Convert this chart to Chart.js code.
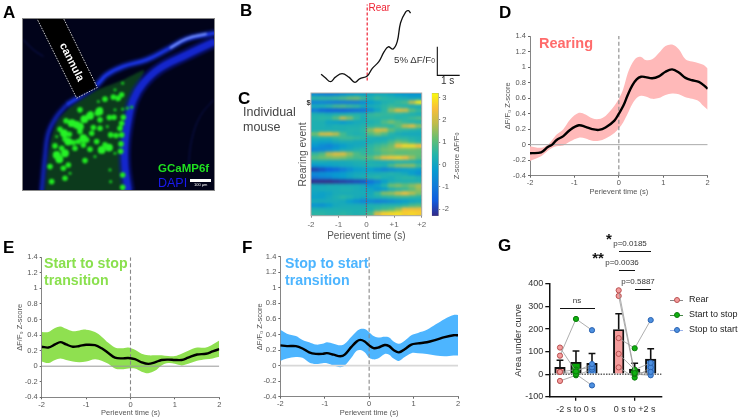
<!DOCTYPE html>
<html><head><meta charset="utf-8">
<script src="https://cdn.jsdelivr.net/npm/chart.js@4"></script>
<style>
html,body{margin:0;padding:0;background:#fff;width:738px;height:417px;overflow:hidden}
body{position:relative;font-family:"Liberation Sans",Arial,sans-serif}
canvas{position:absolute}
.t{position:absolute;white-space:pre;line-height:1}
.l{position:absolute;font-weight:bold;font-size:17px;color:#000}
.b{position:absolute;background:#111;height:1.4px}
sub{font-size:70%;vertical-align:-25%;line-height:0}
</style></head><body>
<script>
// ---------- Panel B: example photometry trace (s, %dF/F)
const traceTime=[-2.06,-1.87,-1.64,-1.42,-1.12,-0.82,-0.55,-0.34,0,0.22,0.52,0.75,0.94,1.15,1.34,1.49,1.72,1.84,1.94];
const traceValue=[0.2,-0.4,-1.1,-0.3,0.3,-0.3,-1.2,-0.6,-0.1,1.2,2.4,4.1,5,4.6,5.9,9.2,11.1,11.3,10.9];
// ---------- Panel C: rearing-event heat map (rows: events, columns: time bins)
const heatBinEdges=[-2,-1.75,-1.5,-1.25,-1,-0.75,-0.5,-0.25,0,0.25,0.5,0.75,1,1.25,1.5,1.75,2];
const heatRows=[
[-.6,-.8,-.9,-.8,-.5,-.3,-.2,-.2,0,.1,.1,0,-.2,-.3,-.4,-.4],
[.5,.6,.6,.7,.9,1.2,1.3,.8,.4,.7,.5,.4,.3,.2,0,0],
[-.8,-.8,-.9,-1,-1,-1,-1,-.7,-.2,0,.3,.4,.6,.8,1.8,3],
[.2,.3,.5,.8,.9,.7,.6,.2,.2,.3,.5,.7,.5,.4,.2,.1],
[-1,-1.4,-1.5,-1.5,-1.5,-1.4,-1.3,-1.2,-.6,0,.5,1.4,2.2,2,1,.6],
[.3,.3,.2,.3,.3,.4,.4,.3,.6,.7,.6,.6,.5,.4,.3,.2],
[.4,.5,.5,1,1.9,1.4,.6,.2,.5,.5,.5,.5,.4,.5,.7,.9],
[.3,.3,0,-.1,-.3,-.1,.1,.2,.3,.4,.9,1.3,.9,.6,.4,.3],
[.3,.3,.2,.3,.3,.3,.3,.4,.5,.6,.6,.5,1,1.8,2.2,1.4],
[.3,.3,.3,.3,.3,.4,.4,.5,1.4,2.1,2,1.1,.6,.5,.4,.3],
[1.2,2.1,2.2,1.8,.8,.4,.3,.4,.9,1.3,.9,.4,.2,.1,.1,.1],
[.3,.3,.3,.5,.7,.7,.6,.5,.3,.2,.2,.3,.5,.5,.4,.3],
[0,-.1,-.1,.1,.2,.2,.1,.1,.2,.3,.4,.8,1.2,1,.6,.4],
[-.3,-.6,-.8,-.5,-.2,0,.1,.2,.5,.7,.9,1.2,2.4,2.8,2.8,2.5],
[-.8,-.7,-.5,-.2,.1,.2,.4,.5,.6,.9,1.2,1.3,1.2,1.2,1.2,1.1],
[.6,.9,1.8,2.2,2.2,1.5,.9,.6,.6,.7,1,1.1,1,1,1.1,1.1],
[1,1.2,1.3,1.4,1.3,1,.8,.9,1,1.6,2.4,2.6,2.7,2.5,1.6,1],
[.2,.2,.1,.1,.1,.2,.3,.3,.3,.2,.2,.2,.3,.3,.3,.2],
[-.3,-.2,-.1,0,.1,.1,.2,.3,.4,.4,.3,.9,1.4,1.5,1.5,.8],
[-2,-1.8,-1.6,-1.4,-1,-.6,-.2,-.1,-.2,-.5,-.8,-.6,-.4,-.2,-.1,-.2],
[-.6,-.5,-.4,-.3,-.2,0,.1,.1,.2,.2,.3,.4,.3,.1,-.2,-.5],
[-1,-.8,-.7,-.4,-.2,0,.2,.3,.4,.5,.3,.2,.4,.5,.5,.3],
[-2.3,-2.3,-2.3,-2.2,-2.1,-2,-1.9,-1.8,-1.2,-.8,-.2,.2,.3,.3,.3,.3],
[.1,.1,.2,.2,.2,.2,.2,.1,-.4,-.1,.4,1.2,1.4,1.1,1.4,1.7],
[.1,.2,.2,.2,.3,.3,.2,.1,0,-.4,-.3,.2,.4,.6,1,1.5],
[0,-.1,0,.2,.2,.2,.2,.2,.1,.6,1.4,1.5,2,2.4,1.8,1.3],
[-.1,-.1,.1,.3,.5,.4,.2,.1,.2,.3,.4,.5,.6,.6,.5,.4],
[.2,.2,.2,.2,.1,-.2,-.5,-.8,-.7,-.9,-.8,-.6,-.4,-.2,0,.1],
[-.4,-.5,-.2,.1,.2,.2,.2,.2,.3,.3,.4,.4,.4,.5,.8,.9],
[.3,.3,.3,.3,.3,.3,.3,.3,.3,.6,.8,1,1.5,2.4,2.4,2.4],
[.5,.5,.4,.4,.5,.4,.3,.4,.8,2.1,2.7,2.8,2.9,2.7,2.8,2.7]];
const colorRange=[-2.3,3.2];
const colorTicks=[3,2,1,0,-1,-2];
// ---------- Panel D: rearing
const timeD=[-2,-1.75,-1.6,-1.5,-1.4,-1.25,-1.1,-.9,-.75,-.6,-.45,-.3,-.1,0,.1,.2,.3,.4,.5,.6,.75,.9,1.05,1.2,1.35,1.5,1.65,1.8,1.9,2];
const meanD=[-.11,-.1,-.03,0,.06,.11,.19,.25,.23,.2,.19,.22,.31,.4,.5,.64,.76,.84,.875,.87,.855,.88,.94,.97,.93,.86,.83,.81,.77,.72];
const upperD=[-.02,-.04,0,.06,.13,.2,.32,.41,.39,.34,.33,.37,.5,.59,.72,.92,1.05,1.12,1.13,1.09,1.1,1.18,1.27,1.29,1.23,1.1,1.07,1.05,1.03,.98];
const lowerD=[-.21,-.15,-.08,-.04,-.02,-.01,.04,.09,.08,.05,.05,.08,.15,.21,.29,.4,.52,.6,.63,.62,.59,.6,.64,.66,.65,.61,.59,.56,.5,.45];
// ---------- Panel E: start to stop
const timeE=[-2,-1.85,-1.7,-1.58,-1.45,-1.3,-1.15,-1,-.8,-.65,-.5,-.35,-.2,-.05,.1,.25,.4,.55,.7,.85,1,1.15,1.3,1.5,1.7,1.85,2];
const meanE=[.25,.24,.28,.31,.28,.25,.26,.275,.27,.23,.17,.11,.1,.105,.09,.05,.03,.05,.08,.085,.08,.08,.11,.15,.16,.19,.22];
const upperE=[.44,.44,.49,.51,.48,.45,.46,.47,.44,.38,.3,.24,.23,.24,.21,.16,.14,.14,.14,.13,.13,.16,.2,.24,.24,.28,.33];
const lowerE=[.06,.04,.08,.1,.08,.06,.05,.06,.09,.07,.03,-.03,-.04,-.03,-.03,-.07,-.09,-.06,.01,.04,.03,.01,.03,.07,.09,.1,.12];
// ---------- Panel F: stop to start
const timeF=[-2,-1.85,-1.65,-1.5,-1.35,-1.2,-1.05,-.95,-.8,-.65,-.55,-.4,-.28,-.2,-.1,0,.1,.2,.35,.45,.55,.67,.8,.95,1.1,1.3,1.5,1.7,1.9,2];
const meanF=[.26,.25,.25,.22,.17,.15,.15,.16,.14,.12,.14,.24,.31,.33,.31,.26,.225,.23,.265,.25,.2,.17,.21,.27,.285,.3,.33,.365,.39,.39];
const upperF=[.46,.41,.38,.33,.3,.27,.28,.3,.28,.26,.28,.37,.44,.47,.47,.43,.38,.36,.37,.36,.31,.28,.32,.39,.42,.46,.53,.6,.65,.65];
const lowerF=[.06,.09,.11,.1,.04,.02,.03,.03,0,-.02,0,.1,.19,.2,.17,.1,.08,.09,.15,.14,.09,.06,.11,.16,.16,.15,.13,.12,.13,.13];
// ---------- Panel G: area under curve
const groupCentres=[2,5.667];
const groupLabels=["-2 s to 0 s","0 s to +2 s"];
const barPositions=[1,2,3,4.667,5.667,6.667];
const barMeans=[30,53,48,198,22,67];
const barUppers=[62,103,92,268,48,113];
const barColors=["#F49C9C","#0BA60B","#4D8FDF","#F49C9C","#0BA60B","#4D8FDF"];
const subjectsLeft=[[82,245,195],[118,12,45],[10,20,30],[10,0,-50],[-30,-5,20]];
const subjectsRight=[[372,5,10],[347,0,-5],[160,115,240],[90,20,50],[30,-15,30]];
const groupNames=["Rear","Start to stop","Stop to start"];
// ---------- Panel A: micrograph features in image units
const cellsLarge=[[298,335],[253,358],[240,380],[250,415],[305,450],[327,443],[170,465],[195,460],[178,478],[205,425],[230,375],[192,400],[270,348],[215,370]];
const cellsMedium=[[292,340],[240,330],[272,342],[220,368],[198,363],[180,388],[208,403],[195,417],[220,428],[260,420],[250,435],[270,448],[363,432],[362,454],[332,405],[348,407],[365,370],[360,385],[365,405],[300,385],[280,383],[328,353],[342,352],[370,352],[300,330],[315,435],[290,425],[235,425],[165,438],[185,445],[205,495],[190,505],[155,545],[195,535],[368,525],[368,562],[255,482],[355,295],[365,285],[340,292],[315,298],[300,360],[275,400],[240,395],[225,445],[150,500]];
const cellsSmall=[[368,250],[352,300],[382,325],[368,328],[295,305],[332,545],[170,410],[322,380],[345,330],[395,322],[210,520],[345,270],[330,510],[345,460],[285,470]];
const greenHaze=[[210,322],[290,272],[370,240],[432,212],[392,300],[375,400],[365,500],[385,573],[135,573],[150,430],[170,360]];
const bandOuter=[[645,125],[560,165],[480,205],[430,250],[400,300],[385,360],[375,430],[375,500],[385,573]];
const bandUpper=[[200,315],[240,290],[290,255],[320,225],[370,200],[440,180],[500,150],[560,118],[645,100]];
const bandHighlight=[[510,145],[560,117],[620,102]];
const bandLeft=[[200,315],[170,350],[145,400],[135,470],[125,573]];
const cannulaShape=[[110,55],[190,55],[292,263],[230,295],[110,55]];
const faintFibres=[[70,120],[100,150],[130,170]];
const faintRight=[[640,300],[600,350],[575,420],[565,500]];

const FONT='"Liberation Sans",Arial,sans-serif';
Chart.defaults.font.family=FONT;
Chart.defaults.animation=false;
Chart.defaults.responsive=false;
Chart.defaults.layout.autoPadding=false;
Chart.defaults.plugins.legend.display=false;
Chart.defaults.plugins.tooltip.enabled=false;

const xy=(a)=>a.map(p=>({x:p[0],y:p[1]}));
const zip=(xs,ys)=>xs.map((x,i)=>({x,y:ys[i]}));
function addCanvas(l,t,w,h){const c=document.createElement('canvas');c.width=w;c.height=h;c.style.left=l+'px';c.style.top=t+'px';c.style.width=w+'px';c.style.height=h+'px';document.body.appendChild(c);return c;}
function text(s,l,t,size,color,extra){const d=document.createElement('div');d.className='t';d.innerHTML=s;d.style.cssText+=`left:${l}px;top:${t}px;font-size:${size}px;color:${color};`+(extra||'');document.body.appendChild(d);return d;}
function letter(s,l,t){const d=document.createElement('div');d.className='l';d.textContent=s;d.style.left=l+'px';d.style.top=t+'px';document.body.appendChild(d);}
function rule(l,t,w){const d=document.createElement('div');d.className='b';d.style.left=l+'px';d.style.top=t+'px';d.style.width=w+'px';document.body.appendChild(d);}
const blurPlugin=(px)=>({id:'softBlur',afterDatasetsDraw(c){const a=c.chartArea,x=c.ctx;x.save();x.beginPath();x.rect(a.left,a.top,a.width,a.height);x.clip();x.filter=`blur(${px}px)`;x.drawImage(c.canvas,a.left,a.top,a.width,a.height,a.left,a.top,a.width,a.height);x.restore();}});

// ---------- Panel A
(function(){
 const cv=addCanvas(22,18,193,173);
 const cellSet=(d,r,col,ord)=>({data:xy(d),pointRadius:r,pointBackgroundColor:col,pointBorderWidth:0,showLine:false,order:ord});
 const band=(d,w,col,ord)=>({data:xy(d),showLine:true,tension:.4,borderColor:col,borderWidth:w,pointRadius:0,order:ord,borderCapStyle:'butt'});
 new Chart(cv,{type:'scatter',data:{datasets:[
   cellSet(cellsLarge,3.9,'#26f226',1),cellSet(cellsMedium,2.8,'#20e820',2),cellSet(cellsSmall,1.6,'#17c51f',3),
   {data:xy(cannulaShape),showLine:true,tension:0,fill:'shape',backgroundColor:'#000',borderWidth:0,borderColor:'transparent',pointRadius:0,order:4},
   band(bandHighlight,2.5,'#6f8cff',4.5),
   band(bandUpper,3.5,'#1a34e0',5),band(bandOuter,7,'#1426cc',6),band(bandLeft,4,'#0f20a0',7),
   band(bandUpper,8,'rgba(14,35,170,.5)',8),band(bandOuter,13,'rgba(12,22,150,.5)',9),band(bandLeft,8,'rgba(8,16,110,.45)',10),
   band(faintFibres,1,'rgba(20,30,120,.7)',11),band(faintRight,1,'rgba(20,30,120,.55)',12),
   {data:xy(greenHaze),showLine:true,tension:.2,fill:'shape',backgroundColor:'rgba(20,95,30,.6)',borderWidth:0,borderColor:'transparent',pointRadius:0,order:13}
  ]},
  options:{layout:{padding:0},scales:{
   x:{display:false,min:66,max:645},y:{display:false,min:55,max:573,reverse:true}}},
  plugins:[{id:'bg',beforeDatasetsDraw(c){const a=c.chartArea,x=c.ctx;x.fillStyle='#01031a';x.fillRect(a.left,a.top,a.width,a.height);}},
   blurPlugin(1),
   {id:'cannulaOutline',afterDatasetsDraw(c){const x=c.ctx,sx=c.scales.x,sy=c.scales.y;x.save();x.beginPath();x.rect(0,0,c.width,c.height);x.clip();x.strokeStyle='#fff';x.lineWidth=.8;x.setLineDash([1.6,1.2]);x.beginPath();cannulaShape.forEach((p,i)=>{const X=sx.getPixelForValue(p[0]),Y=sy.getPixelForValue(p[1]);i?x.lineTo(X,Y):x.moveTo(X,Y);});x.stroke();x.restore();}},
   {id:'frame',afterDraw(c){const x=c.ctx;x.strokeStyle='#888';x.lineWidth=1;x.strokeRect(.5,.5,c.width-1,c.height-1);}}]});
 text('cannula',71.5,61.5,11,'#fff','font-weight:bold;transform:translate(-50%,-50%) rotate(63deg);');
 text('GCaMP6f',158,163,11.5,'#1fe01f','font-weight:bold;');
 text('DAPI',158,177,12.5,'#1a1af0');
 const sb=document.createElement('div');sb.style.cssText='position:absolute;left:190px;top:179px;width:20.5px;height:2.5px;background:#fff';document.body.appendChild(sb);
 text('100 μm',194,183,4,'#fff');
})();

// ---------- Panel B
(function(){
 const cv=addCanvas(300,1,168,83);
 new Chart(cv,{type:'scatter',data:{datasets:[
   {data:zip(traceTime,traceValue),showLine:true,tension:.4,borderColor:'#111',borderWidth:1.3,pointRadius:0,order:1},
   {data:[{x:0,y:-.9},{x:0,y:12.4}],showLine:true,borderColor:'#EE2233',borderWidth:1.2,borderDash:[3,2],pointRadius:0,order:2},
   {data:[{x:3.13,y:5},{x:3.13,y:0},{x:4.13,y:0}],showLine:true,borderColor:'#111',borderWidth:1.1,pointRadius:0,order:3}
  ]},options:{layout:{padding:0},scales:{x:{display:false,min:-3,max:4.5},y:{display:false,min:-1.5,max:13}}}});
 text('Rear',368.5,3,10,'#EE2233');
 text('5% ΔF/F<sub>0</sub>',394,55,9.7,'#333');
 text('1 s',441,76,10,'#333');
})();

// ---------- Panel C
const parulaStops=[[0,53,42,135],[.125,15,92,221],[.25,18,125,216],[.375,7,156,207],[.5,37,180,169],[.625,100,190,115],[.75,190,188,75],[.875,249,190,57],[1,249,251,14]];
function parula(v){let t=(v-colorRange[0])/(colorRange[1]-colorRange[0]);t=Math.max(0,Math.min(1,t));
 for(let i=1;i<parulaStops.length;i++){const a=parulaStops[i-1],b=parulaStops[i];if(t<=b[0]){const f=(t-a[0])/(b[0]-a[0]);return `rgb(${a[1]+(b[1]-a[1])*f},${a[2]+(b[2]-a[2])*f},${a[3]+(b[3]-a[3])*f})`;}}return 'rgb(249,251,14)';}
(function(){
 const cv=addCanvas(297,83,133,159);
 const labels=heatRows.map((_,i)=>i);
 const datasets=heatBinEdges.slice(0,-1).map((e,j)=>({
   data:heatRows.map(()=>[e,heatBinEdges[j+1]]),
   backgroundColor:heatRows.map(r=>parula(r[j])),borderWidth:0,barPercentage:1,categoryPercentage:1,inflateAmount:.6}));
 new Chart(cv,{type:'bar',data:{labels,datasets},options:{indexAxis:'y',
   layout:{padding:{top:10,right:8.3,left:0,bottom:0}},
   scales:{
    x:{min:-2,max:2,ticks:{stepSize:1,autoSkip:false,maxRotation:0,padding:2,color:'#666',font:{size:8},callback:v=>v>0?'+'+v:String(v)},
       grid:{drawOnChartArea:false,tickLength:2,color:'#888'},border:{color:'#888'},
       title:{display:true,text:'Perievent time (s)',color:'#555',font:{size:10},padding:{top:0,bottom:0}},
       afterFit(s){s.height=26.3;}},
    y:{stacked:true,ticks:{autoSkip:false,padding:0,color:'#333',font:{size:8,weight:'bold'},callback:(v,i)=>i===2?'$':''},
       grid:{display:false,drawTicks:false,tickLength:0},border:{display:false},
       title:{display:true,text:'Rearing event',color:'#555',font:{size:10.3},padding:{top:0,bottom:0}},
       afterFit(s){s.width=14;}}}},
  plugins:[blurPlugin(1.5),{id:'zero',afterDatasetsDraw(c){const a=c.chartArea,x=c.ctx,p=c.scales.x.getPixelForValue(0);
    x.save();x.strokeStyle='#9a3a58';x.lineWidth=1;x.setLineDash([1.5,1]);x.beginPath();x.moveTo(p,a.top);x.lineTo(p,a.bottom);x.stroke();x.setLineDash([]);x.strokeStyle='#aaa';x.strokeRect(a.left,a.top,a.width,a.height);x.restore();}}]});
 // colour bar
 const cb=addCanvas(431,83,34,143);
 new Chart(cb,{type:'bar',data:{labels:[''],datasets:[{data:[colorRange],barPercentage:1,categoryPercentage:1,borderWidth:.6,borderColor:'#888',borderSkipped:false,
    backgroundColor(ctx){const a=ctx.chart.chartArea;if(!a)return '#888';const g=ctx.chart.ctx.createLinearGradient(0,a.bottom,0,a.top);parulaStops.forEach(s=>g.addColorStop(s[0],`rgb(${s[1]},${s[2]},${s[3]})`));return g;}}]},
   options:{layout:{padding:{top:10,left:.7,right:0,bottom:10}},scales:{
    x:{display:false},
    y:{position:'right',min:colorRange[0],max:colorRange[1],afterBuildTicks(s){s.ticks=colorTicks.map(v=>({value:v}));},
      ticks:{autoSkip:false,padding:2,color:'#555',font:{size:7.5}},grid:{drawOnChartArea:false,tickLength:1.5,color:'#888'},border:{display:false},afterFit(s){s.width=26.3;}}}}});
 text('Z-score ΔF/F<sub>0</sub>',457,156,7.5,'#555','transform:translate(-50%,-50%) rotate(-90deg);');
 text('Individual\nmouse',243,105,12.5,'#444','line-height:15px;');
})();

// ---------- Panels D, E, F
function perievent(box,t,m,u,lo,band,zeroStyle){
 const cv=addCanvas(box.l,box.t,box.w,box.h);
 new Chart(cv,{type:'scatter',data:{datasets:[
   {data:zip(t,u),showLine:true,tension:.35,fill:'+1',backgroundColor:band,borderWidth:0,borderColor:band,pointRadius:0,order:5},
   {data:zip(t,lo),showLine:true,tension:.35,fill:false,borderWidth:0,borderColor:band,pointRadius:0,order:4},
   {data:[{x:-2,y:0},{x:2,y:0}],showLine:true,borderColor:zeroStyle.c,borderWidth:zeroStyle.w,pointRadius:0,order:3},
   {data:[{x:0,y:-.4},{x:0,y:1.4}],showLine:true,borderColor:'#888',borderWidth:1.1,borderDash:[4,2.5],pointRadius:0,order:2},
   {data:zip(t,m),showLine:true,tension:.35,borderColor:'#000',borderWidth:2.4,pointRadius:0,order:1}
  ]},options:{layout:{padding:{top:box.pt,right:box.pr,left:0,bottom:0}},scales:{
   x:{min:-2,max:2,ticks:{stepSize:1,autoSkip:false,maxRotation:0,padding:1,color:'#555',font:{size:7.5}},
      grid:{drawOnChartArea:false,tickLength:2,color:'#666'},border:{color:'#666',width:.8},
      title:{display:true,text:'Perievent time (s)',color:'#555',font:{size:7.5},padding:{top:0,bottom:0}},afterFit(s){s.height=box.xh;}},
   y:{min:-.4,max:1.4,ticks:{stepSize:.2,autoSkip:false,padding:2,color:'#555',font:{size:7.5},callback:v=>String(Number(v.toFixed(1)))},
      grid:{drawOnChartArea:false,tickLength:2,color:'#666'},border:{color:'#666',width:.8},
      title:{display:true,text:'ΔF/F₀ Z-score',color:'#555',font:{size:7.5},padding:{top:0,bottom:0}},afterFit(s){s.width=box.yw;}}}}});
}
perievent({l:503,t:28,w:213,h:168,pt:8,pr:8.3,xh:20.3,yw:27},timeD,meanD,upperD,lowerD,'#FFB9B9',{c:'#aaa',w:1});
perievent({l:15,t:249,w:213,h:168,pt:8.3,pr:8.7,xh:19.7,yw:26.7},timeE,meanE,upperE,lowerE,'#8FE050',{c:'#999',w:1});
perievent({l:255,t:249,w:211,h:168,pt:7.7,pr:8,xh:20.3,yw:25.3},timeF,meanF,upperF,lowerF,'#4DB5FF',{c:'#d8d8d8',w:1.8});
text('Rearing',539,35.5,14.5,'#FF6B6B','font-weight:bold;');
text('Start to stop\ntransition',44,255,14.2,'#8AE04E','font-weight:bold;line-height:17px;');
text('Stop to start\ntransition',285,255,14.2,'#4DB5FF','font-weight:bold;line-height:17px;');

// ---------- Panel G
(function(){
 const cv=addCanvas(513,274,157,143);
 const pink=['#F49C9C','#0FB00F','#4D90E0'],edge=['#B85050','#0A7A0A','#2A62B0'];
 const subj=(vals,base,ord)=>({data:vals.map((v,i)=>({x:barPositions[base+i],y:v})),showLine:true,tension:0,borderColor:'#999',borderWidth:.8,
   pointRadius:2.6,pointBorderWidth:1,pointBackgroundColor:pink,pointBorderColor:edge,order:ord});
 const err=[];barPositions.forEach((x,i)=>{err.push({x,y:barMeans[i]},{x,y:barUppers[i]},{x,y:null});});
 new Chart(cv,{type:'bar',data:{datasets:[
   ...subjectsLeft.map(v=>subj(v,0,1)).map(d=>({...d,type:'scatter'})),
   ...subjectsRight.map(v=>subj(v,3,1)).map(d=>({...d,type:'scatter'})),
   {type:'scatter',data:[{x:.333,y:0},{x:7.354,y:0}],showLine:true,borderColor:'#111',borderWidth:1,borderDash:[1.5,1.2],pointRadius:0,order:2},
   {type:'scatter',data:err,showLine:true,spanGaps:false,borderColor:'#111',borderWidth:1.6,pointStyle:'line',pointBorderColor:'#111',pointBorderWidth:1.5,
     pointRadius:c=>c.dataIndex%3===1?3.4:0,order:3},
   {type:'bar',data:zip(barPositions,barMeans),backgroundColor:barColors,borderColor:'#111',borderWidth:1.9,barThickness:10.6,order:4}
  ]},options:{layout:{padding:{top:10,right:8.3,left:0,bottom:0}},scales:{
    x:{type:'linear',offset:false,min:.333,max:7.354,afterBuildTicks(s){s.ticks=groupCentres.map(v=>({value:v}));},
       ticks:{autoSkip:false,maxRotation:0,padding:3,color:'#333',font:{size:9},callback:v=>groupLabels[groupCentres.indexOf(v)]},
       grid:{offset:false,drawOnChartArea:false,tickLength:4,color:'#111',lineWidth:1.3},border:{color:'#111',width:1.5},afterFit(s){s.height=20.3;}},
    y:{min:-100,max:400,ticks:{stepSize:100,autoSkip:false,padding:2,color:'#333',font:{size:9}},
       grid:{drawOnChartArea:false,tickLength:4,color:'#111',lineWidth:1.3},border:{color:'#111',width:1.5},
       title:{display:true,text:'Area under curve',color:'#333',font:{size:9.5},padding:{top:0,bottom:0}},afterFit(s){s.width=36.3;}}}}});
 const centre='transform:translateX(-50%);';
 text('ns',577,296.5,8,'#333',centre);rule(560,307.5,34.5);
 text('p=0.0185',630,240,8,'#333',centre);rule(619,250.5,32);
 text('p=0.0036',622,259,8,'#333',centre);rule(619,270,16);
 text('p=0.5887',638,278,8,'#333',centre);rule(635,289,16);
 text('*',609,231,15,'#111','font-weight:bold;transform:translateX(-50%);');
 text('**',598,250,15,'#111','font-weight:bold;transform:translateX(-50%);');
 const legendCol=['#888','#4a8a4a','#9db4ea'];
 groupNames.forEach((n,i)=>{const y=300+15*i;
  const ln=document.createElement('div');ln.style.cssText=`position:absolute;left:670px;top:${y-.5}px;width:13px;height:1px;background:${legendCol[i]}`;document.body.appendChild(ln);
  const dt=document.createElement('div');dt.style.cssText=`position:absolute;left:673.5px;top:${y-2.8}px;width:4px;height:4px;border-radius:50%;background:${pink[i]};border:1px solid ${edge[i]}`;document.body.appendChild(dt);
  text(n,689,y-5,9,'#222');});
})();

['A',3,3,'B',240,1,'C',238,89,'D',499,3,'E',3,238,'F',242,238,'G',498,236].forEach((v,i,a)=>{if(i%3===0)letter(v,a[i+1],a[i+2]);});
</script>
</body></html>
